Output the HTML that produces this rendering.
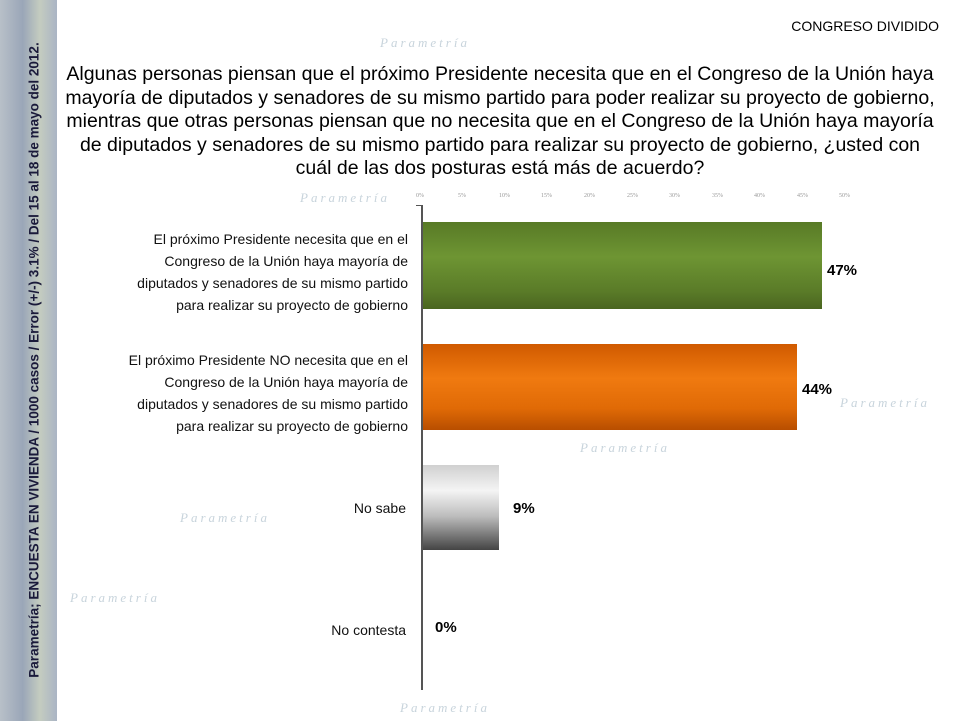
<!DOCTYPE html>
<html><head><meta charset="utf-8"><style>
body{margin:0;width:961px;height:721px;overflow:hidden;background:#fff;font-family:"Liberation Sans",sans-serif;position:relative}
.side{position:absolute;left:0;top:0;width:57px;height:721px;background:linear-gradient(90deg,#b8c0c8,#9aa6b8 40%,#c4ccc0 70%,#aab4c4);}
.vt{position:absolute;left:34px;top:360px;transform:translate(-50%,-50%) rotate(-90deg);white-space:nowrap;font-size:13.5px;font-weight:bold;color:#1a1a3a}
.t{position:absolute;color:#000}
.lbl{position:absolute;right:553px;text-align:right;font-size:14px;line-height:22px;color:#111}
.bar{position:absolute;left:423px}
.pct{position:absolute;font-size:15px;font-weight:bold}
.tick{position:absolute;top:193px;font-size:6px;color:#999;font-family:"Liberation Serif",serif}
.wm{position:absolute;font-family:"Liberation Serif",serif;font-style:italic;color:#c8d4dc;font-size:13px;letter-spacing:3px}
</style></head><body>
<div class="wm" style="left:380px;top:35px">Parametría</div>
<div class="wm" style="left:300px;top:190px">Parametría</div>
<div class="wm" style="left:840px;top:395px">Parametría</div>
<div class="wm" style="left:580px;top:440px">Parametría</div>
<div class="wm" style="left:180px;top:510px">Parametría</div>
<div class="wm" style="left:70px;top:590px">Parametría</div>
<div class="wm" style="left:400px;top:700px">Parametría</div>
<div class="side"></div>
<div class="vt">Parametría; ENCUESTA EN VIVIENDA / 1000 casos / Error (+/-) 3.1% / Del 15 al 18 de mayo del 2012.</div>
<div class="t" style="right:22px;top:18px;font-size:14px">CONGRESO DIVIDIDO</div>
<div class="t" style="left:60px;width:880px;top:63px;text-align:center;font-size:19.5px;line-height:23.5px">Algunas personas piensan que el próximo Presidente necesita que en el Congreso de la Unión haya mayoría de diputados y senadores de su mismo partido para poder realizar su proyecto de gobierno, mientras que otras personas piensan que no necesita que en el Congreso de la Unión haya mayoría de diputados y senadores de su mismo partido para realizar su proyecto de gobierno, ¿usted con cuál de las dos posturas está más de acuerdo?</div>
<div class="tick" style="left:416px">0%</div><div class="tick" style="left:458px">5%</div><div class="tick" style="left:499px">10%</div><div class="tick" style="left:541px">15%</div><div class="tick" style="left:584px">20%</div><div class="tick" style="left:627px">25%</div><div class="tick" style="left:669px">30%</div><div class="tick" style="left:712px">35%</div><div class="tick" style="left:754px">40%</div><div class="tick" style="left:797px">45%</div><div class="tick" style="left:839px">50%</div>
<div style="position:absolute;left:421px;top:205px;width:2px;height:485px;background:#555"></div>
<div style="position:absolute;left:416px;top:205px;width:6px;height:1px;background:#555"></div>
<div class="lbl" style="top:228px">El próximo Presidente necesita que en el<br>Congreso de la Unión haya mayoría de<br>diputados y senadores de su mismo partido<br>para realizar su proyecto de gobierno</div>
<div class="lbl" style="top:349px">El próximo Presidente NO necesita que en el<br>Congreso de la Unión haya mayoría de<br>diputados y senadores de su mismo partido<br>para realizar su proyecto de gobierno</div>
<div class="lbl" style="top:497px;right:555px">No sabe</div>
<div class="lbl" style="top:619px;right:555px">No contesta</div>
<div class="bar" style="top:222px;width:399px;height:87px;background:linear-gradient(#587a26,#6e9533 40%,#5a7b28 80%,#4a6520)"></div>
<div class="bar" style="top:344px;width:374px;height:86px;background:linear-gradient(#d05a00,#f07a10 40%,#e06a06 75%,#b84e00)"></div>
<div class="bar" style="top:465px;width:76px;height:85px;background:linear-gradient(#d0d0d0,#f4f4f4 30%,#bdbdbd 60%,#444)"></div>
<div class="pct" style="left:827px;top:262px">47%</div>
<div class="pct" style="left:802px;top:381px">44%</div>
<div class="pct" style="left:513px;top:500px">9%</div>
<div class="pct" style="left:435px;top:619px">0%</div>
</body></html>
